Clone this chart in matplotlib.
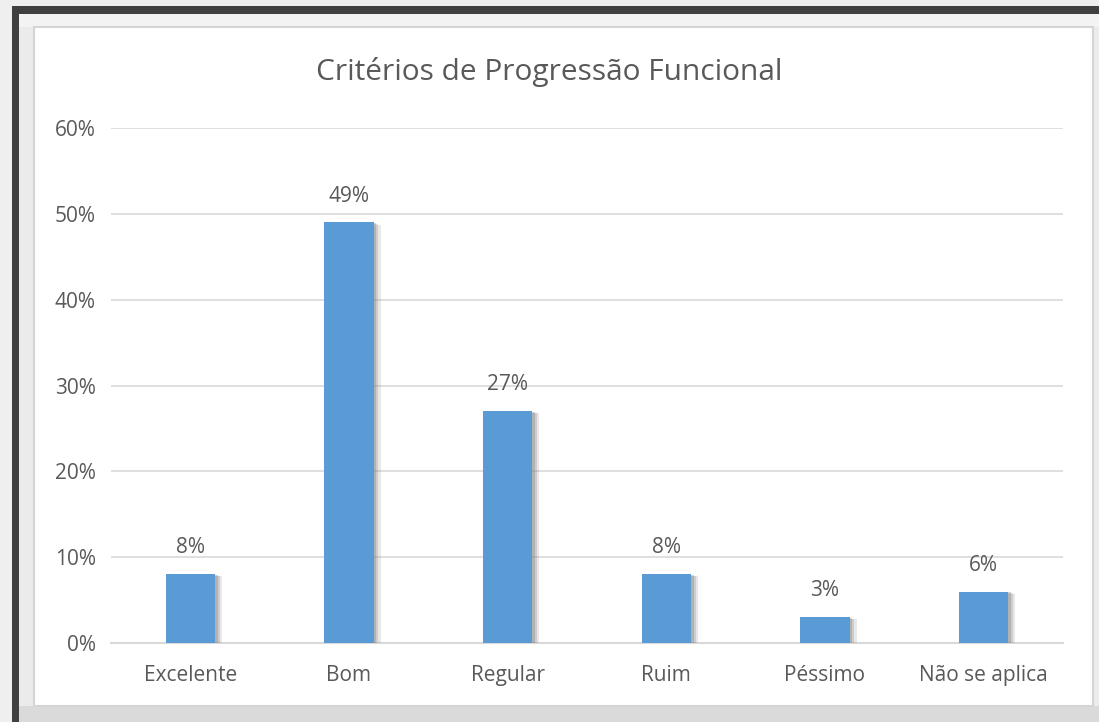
import matplotlib
matplotlib.use("Agg")
import matplotlib.pyplot as plt
import matplotlib.patheffects as pe
from matplotlib.patches import Rectangle

categories = ["Excelente", "Bom", "Regular", "Ruim", "Péssimo", "Não se aplica"]
values = [0.08, 0.49, 0.27, 0.08, 0.03, 0.06]
yticks = [0.0, 0.1, 0.2, 0.3, 0.4, 0.5, 0.6]
title = "Critérios de Progressão Funcional"

W, H = 1099, 722
txt = "#595959"
grid = "#d9d9d9"
bar_color = "#5b9bd5"

plt.rcParams["font.family"] = ["Open Sans", "DejaVu Sans"]


def box(x0, y0, x1, y1, **kw):
    # pixel box (top-left origin) -> figure fraction rectangle
    return Rectangle((x0 / W, 1 - y1 / H), (x1 - x0) / W, (y1 - y0) / H,
                     transform=fig.transFigure, **kw)


fig = plt.figure(figsize=(W / 100, H / 100), dpi=100, facecolor="#efefef")

# frame around the chart
fig.patches.append(box(19, 14, W, H, facecolor="#ebebeb", lw=0, zorder=0))
fig.patches.append(box(19, 14, W, 27, facecolor="#f3f3f3", lw=0, zorder=0))
fig.patches.append(box(19, 706, W, H, facecolor="#dadada", lw=0, zorder=0))
fig.patches.append(box(12, 6, W, 14, facecolor="#404040", lw=0, zorder=1))
fig.patches.append(box(12, 6, 19, H, facecolor="#404040", lw=0, zorder=1))
fig.patches.append(box(34, 27, 1093, 706, facecolor="white",
                       edgecolor="#d4d4d4", lw=1.5, zorder=1))

ax = fig.add_axes([111 / W, 1 - 643 / H, (1063 - 111) / W, (643 - 128) / H])
ax.set_facecolor("none")
ax.set_zorder(5)

x = range(len(categories))
bars = ax.bar(x, values, width=0.31, color=bar_color, zorder=3)
for b in bars:
    b.set_path_effects([
        pe.SimplePatchShadow(offset=(5, -1.5), shadow_rgbFace="#808080", alpha=0.18),
        pe.SimplePatchShadow(offset=(3.5, -1), shadow_rgbFace="#808080", alpha=0.25),
        pe.SimplePatchShadow(offset=(2, -0.5), shadow_rgbFace="#808080", alpha=0.35),
        pe.Normal(),
    ])

for xi, v in zip(x, values):
    ax.annotate("%d%%" % round(v * 100), (xi, v), xytext=(0, 19),
                textcoords="offset points", ha="center", va="center",
                fontsize=15, color=txt)

ax.set_ylim(0, 0.6)
ax.set_xlim(-0.5, len(categories) - 0.5)
ax.set_yticks(yticks)
ax.set_yticklabels(["%d%%" % round(t * 100) for t in yticks])
ax.set_xticks(list(x))
ax.set_xticklabels(categories)
ax.tick_params(axis="both", length=0, labelsize=15, colors=txt)
ax.tick_params(axis="y", pad=11)
ax.tick_params(axis="x", pad=16)
ax.yaxis.grid(True, color=grid, lw=1.2, zorder=0)
ax.set_axisbelow(True)
for s in ["top", "left", "right"]:
    ax.spines[s].set_visible(False)
ax.spines["bottom"].set_color(grid)
ax.spines["bottom"].set_linewidth(1.5)

fig.text(549 / W, 1 - 72 / H, title, ha="center", va="center",
         fontsize=21.5, color=txt, zorder=6)

fig.savefig("out.png", dpi=100, facecolor=fig.get_facecolor())
